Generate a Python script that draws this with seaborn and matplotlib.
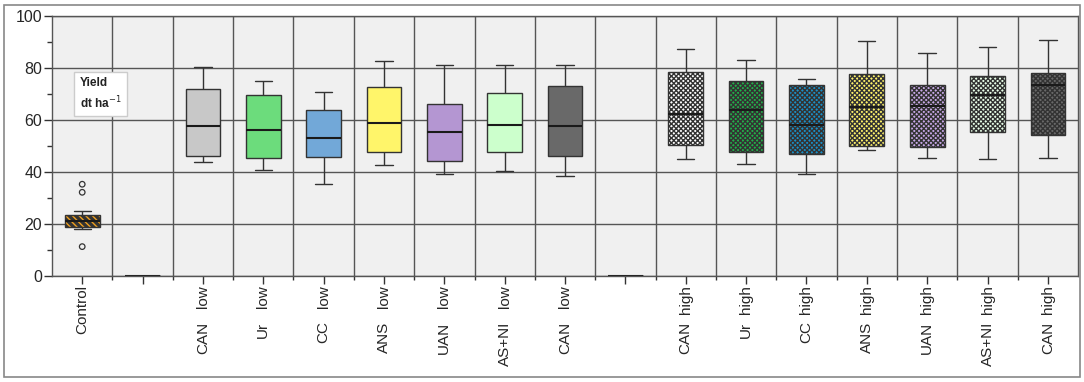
import matplotlib.pyplot as plt
import numpy as np
import pandas as pd
import seaborn as sns
from matplotlib.patches import Rectangle
from matplotlib.ticker import MultipleLocator
from matplotlib.transforms import blended_transform_factory

# categories (17 slots, two empty spacers)
groups = ["Control", "gap1", "CAN low", "Ur low", "CC low", "ANS low", "UAN low",
          "AS+NI low", "CAN low 2", "gap2", "CAN high", "Ur high", "CC high",
          "ANS high", "UAN high", "AS+NI high", "CAN high 2"]
fertilizer = ["", "", "CAN", "Ur", "CC", "ANS", "UAN", "AS+NI", "CAN", "",
              "CAN", "Ur", "CC", "ANS", "UAN", "AS+NI", "CAN"]
level = ["Control", "", "low", "low", "low", "low", "low", "low", "low", "",
         "high", "high", "high", "high", "high", "high", "high"]

whisker_low = [18.0, 0, 43.7, 40.8, 35.5, 42.7, 39.4, 40.5, 38.5, 0,
               45.1, 43.2, 39.1, 48.3, 45.4, 45.0, 45.4]
q1 = [19.0, 0, 46.0, 45.5, 45.6, 47.6, 44.4, 47.6, 46.3, 0,
      50.3, 47.7, 46.8, 50.1, 49.6, 55.4, 54.3]
median = [21.3, 0, 57.8, 56.3, 52.9, 59.0, 55.4, 58.1, 57.6, 0,
          62.4, 64.0, 58.0, 65.0, 65.4, 69.5, 73.3]
q3 = [23.5, 0, 71.8, 69.5, 63.8, 72.6, 66.3, 70.5, 73.1, 0,
      78.3, 75.0, 73.5, 77.6, 73.6, 76.8, 78.0]
whisker_high = [25.1, 0, 80.3, 74.9, 70.9, 82.7, 81.2, 81.0, 81.2, 0,
                87.4, 83.1, 75.8, 90.3, 85.9, 88.0, 90.9]
control_outliers = [35.3, 32.2, 11.3]

colors = ["#F2A11F", "#FFFFFF", "#C8C8C8", "#6CDC7C", "#72A8D8", "#FFF56A",
          "#B496D2", "#CCFFCC", "#696969", "#FFFFFF", "#FFFFFF", "#22B04A",
          "#1A90C8", "#FFF36A", "#C8A8E8", "#E8FFE8", "#696969"]
hatches = ["\\\\\\\\\\", "", "", "", "", "", "", "", "", "",
           "xxxxxxx", "xxxxxxx", "xxxxxxx", "xxxxxxx", "xxxxxxx", "xxxxxxx", "xxxxxxx"]

rows = []
for g, a, b, c, d, e in zip(groups, whisker_low, q1, median, q3, whisker_high):
    for v in (a, b, c, d, e):
        rows.append({"group": g, "value": v})
df = pd.DataFrame(rows)

sns.set_style("white")
plt.rcParams["font.family"] = ["Liberation Sans", "DejaVu Sans"]
plt.rcParams["hatch.color"] = "black"
plt.rcParams["hatch.linewidth"] = 1.0

fig = plt.figure(figsize=(10.84, 3.82), dpi=100)
ax = fig.add_axes([0.048, 0.2775, 0.9465, 0.6805])
ax.set_facecolor("#F0F0F0")

sns.boxplot(
    data=df, x="group", y="value", hue="group", order=groups, hue_order=groups,
    palette=dict(zip(groups, colors)), saturation=1, width=0.575,
    linecolor="#333333", linewidth=1, showfliers=False, legend=False,
    medianprops=dict(color="#1a1a1a", linewidth=1.5), ax=ax,
)

for p in ax.patches:
    i = int(round(np.mean(p.get_path().vertices[:, 0])))
    if 0 <= i < len(groups):
        if hatches[i]:
            p.set_hatch(hatches[i])
            if i == 0 and hasattr(p, "set_hatch_linewidth"):
                p.set_hatch_linewidth(2.4)
        if whisker_high[i] == 0:
            p.set_linewidth(2)

ci = groups.index("Control")
ax.scatter([ci] * len(control_outliers), control_outliers, s=16,
           facecolors="none", edgecolors="#333333", linewidths=0.9, zorder=4)

ax.set_ylim(0, 100)
ax.set_xlim(-0.5, len(groups) - 0.5)
ax.yaxis.set_major_locator(MultipleLocator(20))
ax.yaxis.set_minor_locator(MultipleLocator(10))
ax.set_xticks(np.arange(len(groups)))
ax.set_xticks(np.arange(len(groups) - 1) + 0.5, minor=True)
ax.set_xticklabels(level, rotation=90, va="top", ha="center", fontsize=11)
ax.tick_params(axis="y", which="major", length=6, width=1, pad=1,
               labelsize=11.5, left=True, color="#333333")
ax.tick_params(axis="y", which="minor", length=3.5, width=1, left=True,
               color="#333333")
ax.tick_params(axis="x", which="major", length=6, width=1, pad=0.5,
               bottom=True, color="#333333")
ax.tick_params(axis="x", which="minor", length=3, width=1, bottom=True,
               color="#333333")
ax.set_xlabel("")
ax.set_ylabel("")
ax.set_axisbelow(True)
ax.yaxis.grid(True, which="major", color="#555555", linewidth=1)
ax.xaxis.grid(True, which="minor", color="#555555", linewidth=1)
for s in ax.spines.values():
    s.set_color("#555555")
    s.set_linewidth(1)

trans = blended_transform_factory(ax.transData, ax.transAxes)
for i, name in enumerate(fertilizer):
    if name:
        ax.text(i, -0.175, name, transform=trans, rotation=90, ha="center",
                va="top", fontsize=11)

ax.text(-0.04, 76.5, "Yield\ndt ha$^{-1}$", fontsize=8.5, fontweight="bold",
        color="#222222", ha="left", va="top", linespacing=1.4,
        bbox=dict(boxstyle="square,pad=0.45", fc="white", ec="#cccccc", lw=1))

fig.patches.append(Rectangle((0.0037, 0.013), 0.9926, 0.974, transform=fig.transFigure,
                             fill=False, edgecolor="#888888", linewidth=1.2))

fig.savefig("out.png", dpi=100)
